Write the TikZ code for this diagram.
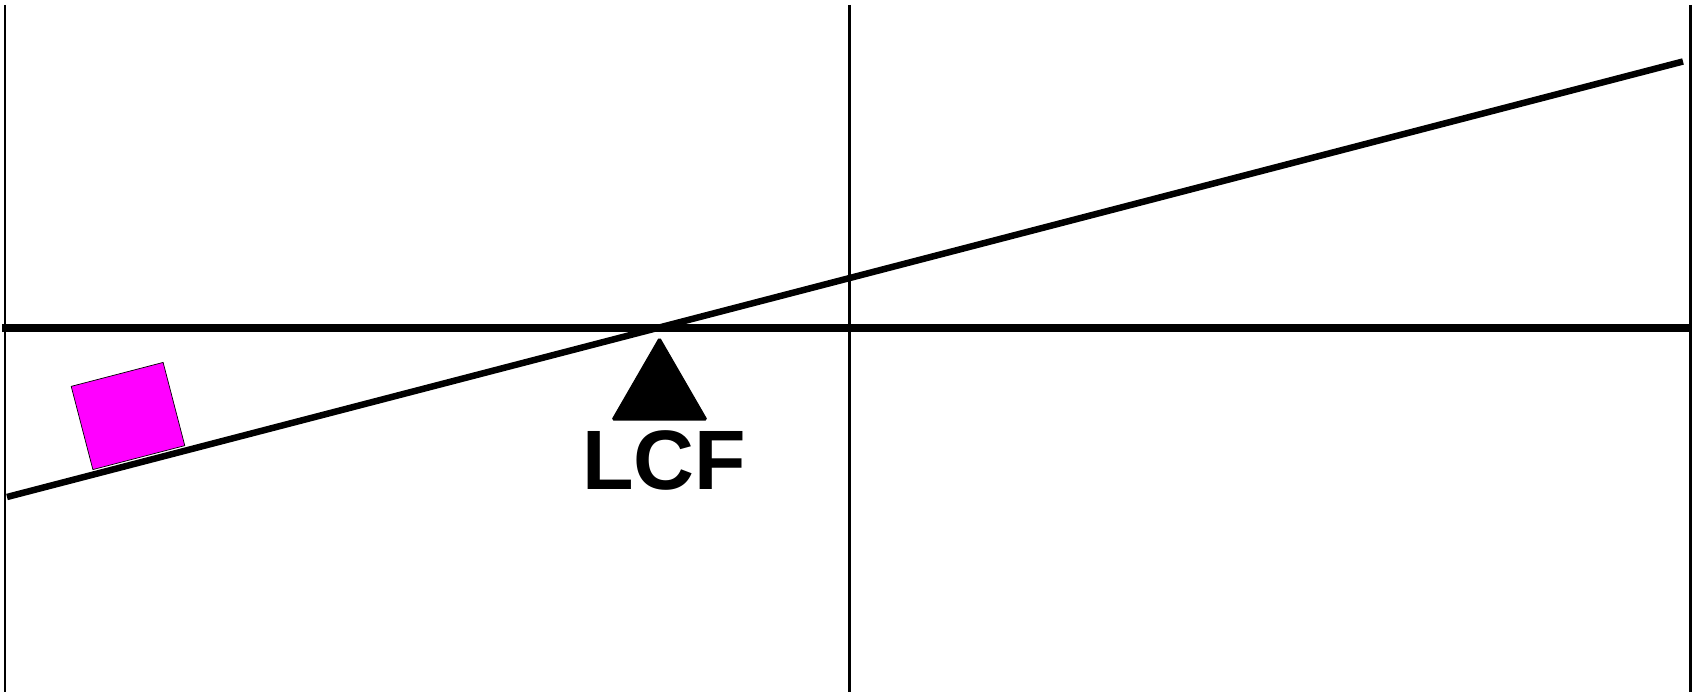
\documentclass[tikz,border=0pt]{standalone}
\usepackage{fontspec}
\setmainfont{Liberation Sans}
\usepackage{tikz}
\usetikzlibrary{
  arrows.meta,
  positioning,
  calc,
  shapes.geometric
}
\definecolor{rosa}{RGB}{255,0,255}

\begin{document}
\begin{tikzpicture}[
      x=0.02cm, y=-0.02cm,
      guia/.style={draw=black, line width=0.06cm},
      nivel/.style={draw=black, line width=0.145cm},
      viga/.style={draw=black, line width=0.13cm},
      apoio/.style={regular polygon, regular polygon sides=3,
                    minimum size=2.2cm, inner sep=0pt, fill=black,
                    draw=black, line width=0.6pt, rounded corners=1pt},
      bloco/.style={draw=black, line width=0.4pt, fill=rosa,
                    minimum width=1.9cm, minimum height=1.72cm,
                    inner sep=0pt, rotate=14.6},
      rotulo/.style={font=\fontsize{48}{50}\selectfont\bfseries}
  ]
      \useasboundingbox (0,0) rectangle (1701,692);

      % Linhas verticais
      \foreach \x/\n in {5/a, 849/b, 1690/c} {
          \coordinate (v\n1) at (\x,5);
          \coordinate (v\n2) at (\x,692);
          \draw[guia] (v\n1)--(v\n2);
      }

      % Linha horizontal
      \coordinate (h1) at (2,328);
      \coordinate (h2) at (1690,328);
      \draw[nivel] (h1)--(h2);

      % Viga inclinada
      \coordinate (b1) at (7,497);
      \coordinate (b2) at (1683,61.5);
      \draw[viga] (b1)--(b2);

      % Apoio e rótulo
      \node[apoio] (lcf) at (659.5,392.5) {};
      \node[rotulo, anchor=base] (txt) at (664,490) {LCF};

      % Bloco sobre a viga
      \node[bloco] (caixa) at (128,416) {};
  \end{tikzpicture}
\end{document}
